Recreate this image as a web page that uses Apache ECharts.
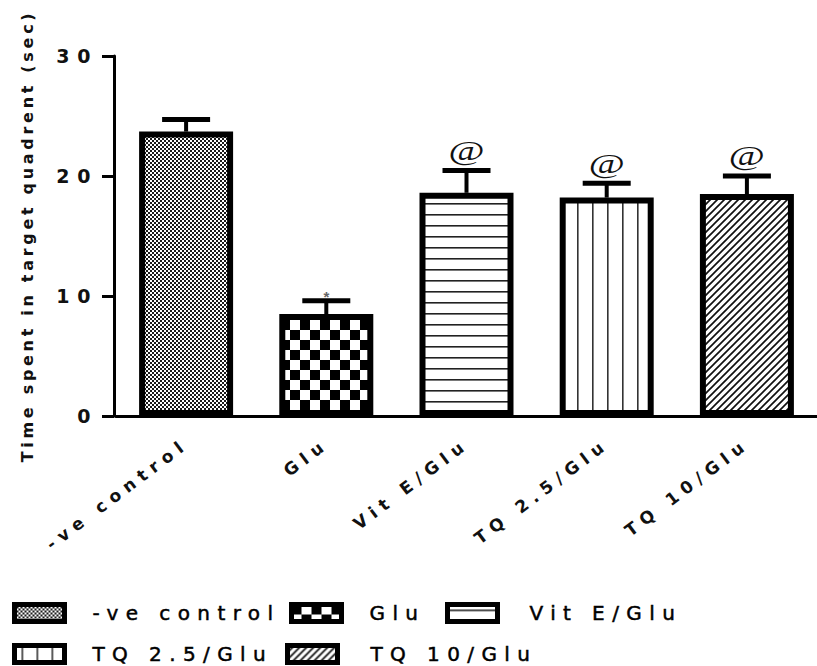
<!DOCTYPE html>
<html>
<head>
<meta charset="utf-8">
<script src="https://cdn.jsdelivr.net/npm/echarts@6/dist/echarts.min.js"></script>
<style>
  html, body { margin: 0; padding: 0; background: #fff; }
  #chart { width: 817px; height: 666px; }
</style>
</head>
<body>
<div id="chart"></div>
<script>
// Groups on the x axis (also used as legend entries)
const categories = ['-ve control', 'Glu', 'Vit E/Glu', 'TQ 2.5/Glu', 'TQ 10/Glu'];
// Mean time spent in the target quadrant (sec)
const meanValues = [23.7, 8.5, 18.6, 18.2, 18.5];
// Standard error of the mean for each group
const semValues = [1.0, 1.1, 1.85, 1.2, 1.5];
// Significance marks drawn above the error bars
const significance = ['', '*', '@', '@', '@'];
// Value axis ticks
const yTicks = [0, 10, 20, 30];
const yTitle = 'Time spent in target quadrent (sec)';

// ---- fill patterns for the bars -------------------------------------------
function tile(w, h, draw) {
  const c = document.createElement('canvas');
  c.width = w; c.height = h;
  const ctx = c.getContext('2d');
  ctx.fillStyle = '#fff';
  ctx.fillRect(0, 0, w, h);
  draw(ctx, w, h);
  return { image: c, repeat: 'repeat' };
}
const patterns = [
  // fine checker
  tile(4, 4, (ctx) => {
    ctx.fillStyle = '#1a1a1a';
    ctx.fillRect(0, 0, 2, 2);
    ctx.fillRect(2, 2, 2, 2);
  }),
  // coarse checker
  tile(20, 20, (ctx) => {
    ctx.fillStyle = '#000';
    ctx.fillRect(0, 0, 10, 10);
    ctx.fillRect(10, 10, 10, 10);
  }),
  // horizontal lines
  tile(8, 11, (ctx, w) => {
    ctx.fillStyle = '#222';
    ctx.fillRect(0, 5, w, 1.6);
  }),
  // vertical lines
  tile(15, 8, (ctx, w, h) => {
    ctx.fillStyle = '#333';
    ctx.fillRect(7, 0, 1.6, h);
  }),
  // diagonal hatching
  tile(7, 7, (ctx, w, h) => {
    ctx.strokeStyle = '#111';
    ctx.lineWidth = 1.7;
    ctx.beginPath();
    ctx.moveTo(0, h); ctx.lineTo(w, 0);
    ctx.moveTo(-1, 1); ctx.lineTo(1, -1);
    ctx.moveTo(w - 1, h + 1); ctx.lineTo(w + 1, h - 1);
    ctx.stroke();
  })
];

const FONT = 'DejaVu Sans';

const barSeries = categories.map((name, i) => ({
  name: name,
  type: 'bar',
  barWidth: 94,
  barGap: '-100%',
  data: categories.map((c, j) => (j === i ? meanValues[i] : '-')),
  itemStyle: { color: patterns[i], borderColor: '#000', borderWidth: 6 },
  emphasis: { disabled: true },
  animation: false
}));

const errorSeries = {
  type: 'custom',
  coordinateSystem: 'cartesian2d',
  z: 10,
  animation: false,
  silent: true,
  data: categories.map((c, i) => [i, meanValues[i], meanValues[i] + semValues[i]]),
  renderItem: function (params, api) {
    const i = api.value(0);
    const top = api.coord([i, api.value(1)]);
    const tip = api.coord([i, api.value(2)]);
    const mark = significance[i];
    const children = [
      { type: 'line', shape: { x1: top[0], y1: top[1], x2: tip[0], y2: tip[1] },
        style: { stroke: '#000', lineWidth: 4 } },
      { type: 'line', shape: { x1: tip[0] - 24, y1: tip[1], x2: tip[0] + 24, y2: tip[1] },
        style: { stroke: '#000', lineWidth: 5 } }
    ];
    if (mark === '@') {
      children.push({
        type: 'text', x: tip[0], y: tip[1] - 20, scaleX: 1.4,
        style: { text: mark, font: '28px "Liberation Serif"', textAlign: 'center',
                 textVerticalAlign: 'middle', fill: '#111' }
      });
    } else if (mark) {
      children.push({
        type: 'text', x: tip[0], y: tip[1] - 4,
        style: { text: mark, font: 'bold 15px "Liberation Sans"', textAlign: 'center',
                 textVerticalAlign: 'middle', fill: '#666' }
      });
    }
    return { type: 'group', children: children };
  }
};

// one legend block per group, laid out in two rows
const legendSpots = [
  { left: 12, top: 602, pad: 23 },
  { left: 289, top: 602, pad: 23 },
  { left: 445, top: 602, pad: 27 },
  { left: 12, top: 643, pad: 23 },
  { left: 285, top: 643, pad: 28 }
];
const legends = categories.map((name, i) => ({
  data: [name],
  left: legendSpots[i].left,
  top: legendSpots[i].top,
  padding: 0,
  selectedMode: false,
  icon: 'rect',
  itemWidth: 50,
  itemHeight: 17,
  itemStyle: { borderColor: '#000', borderWidth: 5 },
  textStyle: { fontFamily: FONT, fontSize: 20, color: '#000',
               textBorderColor: '#000', textBorderWidth: 0.5,
               padding: [0, 0, 0, legendSpots[i].pad] }
}));

const chart = echarts.init(document.getElementById('chart'), null, { renderer: 'svg' });
chart.setOption({
  backgroundColor: '#fff',
  animation: false,
  grid: { left: 116, right: -8, top: 56, bottom: 250, containLabel: false },
  legend: legends,
  xAxis: {
    type: 'category',
    data: categories,
    axisLine: { lineStyle: { color: '#000', width: 3 } },
    axisTick: { alignWithLabel: true, length: 8, lineStyle: { color: '#000', width: 3 } },
    axisLabel: { rotate: 37, margin: 26, fontFamily: FONT, fontWeight: 'bold',
                 fontSize: 17, color: '#111', interval: 0 }
  },
  yAxis: {
    type: 'value',
    min: yTicks[0],
    max: yTicks[yTicks.length - 1],
    interval: yTicks[1] - yTicks[0],
    offset: 2,
    name: yTitle,
    nameLocation: 'middle',
    nameGap: 79,
    nameTextStyle: { fontFamily: FONT, fontWeight: 'bold', fontSize: 16, color: '#111' },
    splitLine: { show: false },
    axisLine: { show: true, lineStyle: { color: '#000', width: 3 } },
    axisTick: { show: true, length: 12, lineStyle: { color: '#000', width: 3 } },
    axisLabel: { margin: 16, fontFamily: FONT, fontWeight: 'bold', fontSize: 19, color: '#111' }
  },
  series: barSeries.concat([errorSeries])
});

// widen the tracking of the axis and legend text
function trackText() {
  const root = document.querySelector('#chart svg');
  if (!root) return;
  const tickStrings = yTicks.map(String);
  root.querySelectorAll('text').forEach((t) => {
    const s = t.textContent;
    if (s === yTitle) t.setAttribute('letter-spacing', '3.7px');
    else if (categories.indexOf(s) >= 0) t.setAttribute('letter-spacing', '0.37em');
    else if (tickStrings.indexOf(s) >= 0) t.setAttribute('letter-spacing', '0.4em');
  });
}
trackText();
chart.on('finished', trackText);
</script>
</body>
</html>
